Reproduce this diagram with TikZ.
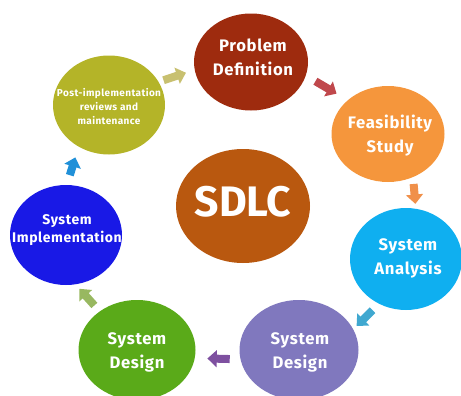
\documentclass[tikz,border=0pt]{standalone}
\usepackage{fontspec}
\setmainfont{Fira Sans}
\usetikzlibrary{shapes.geometric,arrows.meta}

\definecolor{probred}{RGB}{158,43,14}
\definecolor{postolive}{RGB}{180,180,40}
\definecolor{feasorange}{RGB}{245,150,60}
\definecolor{sdlcrust}{RGB}{185,88,15}
\definecolor{implblue}{RGB}{25,25,230}
\definecolor{analcyan}{RGB}{15,175,240}
\definecolor{desplum}{RGB}{128,120,190}
\definecolor{desgreen}{RGB}{90,170,25}

\tikzset{
  phase/.style={ellipse, inner sep=0pt, draw=none},
  word/.style={text=white, align=center, inner sep=0pt, font=\bfseries\fontsize{12.5}{18}\selectfont\addfontfeatures{LetterSpace=4}},
  flow/.style={line width=6pt, -{Triangle[width=12.5pt,length=7pt]}},
}

\begin{document}
\begin{tikzpicture}[x=0.75pt, y=-0.75pt]
    \useasboundingbox (0,0) rectangle (461,396);

    % the phases
    \node[phase, fill=probred, minimum width=85.5pt, minimum height=72.75pt] (prob) at (251,62) {};
    \node[phase, fill=feasorange, minimum width=84.75pt, minimum height=72pt] (feas) at (388,134) {};
    \node[phase, fill=analcyan, minimum width=84pt, minimum height=76.5pt] (anal) at (406,259) {};
    \node[phase, fill=desplum, minimum width=89.25pt, minimum height=75pt] (plum) at (299,350) {};
    \node[phase, fill=desgreen, minimum width=87.75pt, minimum height=75pt] (green) at (137,350) {};
    \node[phase, fill=implblue, minimum width=84pt, minimum height=75pt] (impl) at (66,235) {};
    \node[phase, fill=postolive, minimum width=84pt, minimum height=74.25pt] (post) at (109,105) {};
    \node[phase, fill=sdlcrust, minimum width=100.5pt, minimum height=85.5pt] (sdlc) at (243,206) {};

    \node[word] (prob-txt) at (253,57) {Problem\\Definition};
    \node[word] (feas-txt) at (390,136) {Feasibility\\Study};
    \node[word] (anal-txt) at (408,258) {System\\Analysis};
    \node[word] (plum-txt) at (300,352) {System\\Design};
    \node[word] (green-txt) at (137,352) {System\\Design};
    \node[word, font=\bfseries\fontsize{10.5}{14}\selectfont\addfontfeatures{LetterSpace=4}] (impl-txt) at (67,230) {System\\Implementation};
    \node[word, font=\bfseries\fontsize{7.5}{10.5}\selectfont\addfontfeatures{LetterSpace=4}] (post-txt) at (109,107) {Post-implementation\\reviews and\\maintenance};
    \node[word, font=\bfseries\fontsize{32}{36}\selectfont] (sdlc-txt) at (243,202) {SDLC};

    % the cycle
    \draw[flow, color={rgb,255:red,200;green,192;blue,112}, shorten <=3.75pt, shorten >=6.75pt] (post.25.7) -- (prob.188.7);
    \draw[flow, color={rgb,255:red,192;green,72;blue,76}, shorten <=8.25pt, shorten >=9.6pt] (prob.-14.7) -- (feas.140);
    \draw[flow, color={rgb,255:red,240;green,144;blue,74}, shorten <=5pt, shorten >=3.5pt] (feas.-60.8) -- (anal.79.7);
    \draw[flow, color={rgb,255:red,64;green,168;blue,208}, shorten <=6.75pt, shorten >=3.4pt] (anal.239.7) -- (plum.21.6);
    \draw[flow, color={rgb,255:red,126;green,80;blue,160}, shorten <=7.9pt, shorten >=9.3pt] (plum.189) -- (green.-8.9);
    \draw[flow, color={rgb,255:red,152;green,184;blue,96}, shorten <=5.85pt, shorten >=4.3pt] (green.134.3) -- (impl.-79.7);
    \draw[flow, color={rgb,255:red,32;green,144;blue,216}, shorten <=7.5pt, shorten >=8.25pt] (impl.89) -- (post.234.8);
\end{tikzpicture}
\end{document}
